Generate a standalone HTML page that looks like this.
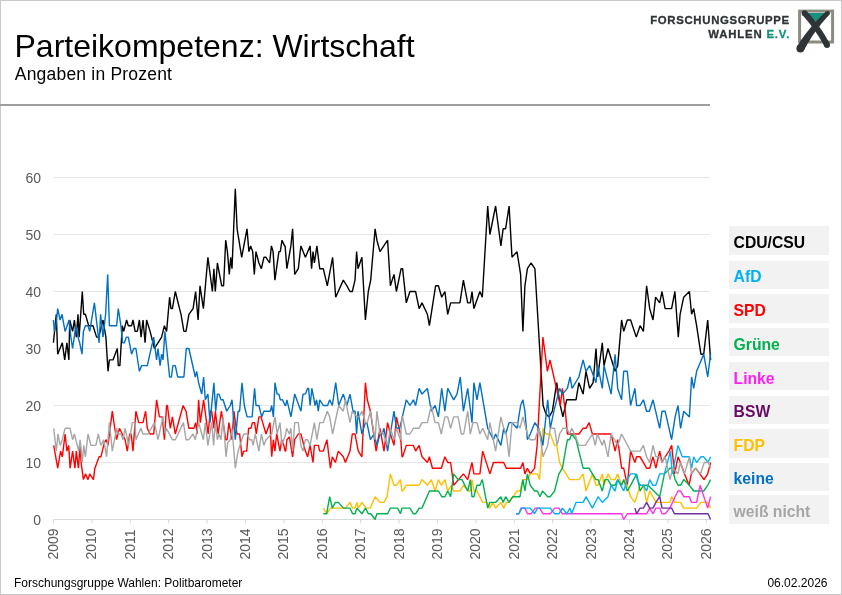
<!DOCTYPE html>
<html lang="de"><head><meta charset="utf-8"><title>Parteikompetenz: Wirtschaft</title>
<style>
html,body{margin:0;padding:0;background:#fff}
body{width:842px;height:595px;position:relative;overflow:hidden;font-family:"Liberation Sans",Arial,sans-serif}
#frame{position:absolute;left:0;top:0;width:840px;height:593px;border:1px solid #c9c9c9}
#title{position:absolute;left:14.5px;top:27.6px;font-size:32px;line-height:37px;color:#000;white-space:nowrap}
#sub{position:absolute;left:14.8px;top:63.9px;letter-spacing:0.2px;font-size:17.5px;line-height:20px;color:#000;white-space:nowrap}
#rule{position:absolute;left:0;top:104px;width:710px;height:2px;background:#9e9e9e}
.lg{position:absolute;left:729.3px;width:95.1px;height:23.6px;background:#f2f2f2;font-weight:bold;font-size:15.7px;line-height:24px;padding-left:4.3px;padding-top:4.7px;white-space:nowrap}
#foot{position:absolute;left:14px;top:576px;font-size:12px;line-height:14px;color:#000;white-space:nowrap}
#date{position:absolute;right:14.5px;top:576px;font-size:12px;line-height:14px;color:#000;white-space:nowrap}
#logo{position:absolute;left:640px;top:6px;width:200px;height:50px}
#wrap{position:absolute;left:0;top:0;width:842px;height:595px;will-change:transform;opacity:0.999}
</style></head><body>
<div id="wrap">
<div id="frame"></div>
<div id="title">Parteikompetenz: Wirtschaft</div>
<div id="sub">Angaben in Prozent</div>
<div id="rule"></div>
<svg id="logo" width="200" height="50" viewBox="640 6 200 50">
<g font-family="Liberation Sans, Arial, sans-serif" font-weight="bold" font-size="11.4" fill="#2f3436" stroke="#2f3436" stroke-width="0.3">
<text x="650.2" y="23.7" textLength="139" lengthAdjust="spacing">FORSCHUNGSGRUPPE</text>
<text x="708.3" y="37.5" textLength="81" lengthAdjust="spacing">WAHLEN <tspan fill="#17907f" stroke="#17907f">E.V.</tspan></text>
</g>
<rect x="799.6" y="11.1" width="33" height="30.9" fill="#fff" stroke="#8a8c80" stroke-width="3"/>
<polygon points="805,12.9 827,12.9 815.4,27" fill="#17907f"/>
<polygon points="802.5,15.2 803.5,16.3 804.6,17.5 805.6,18.7 806.6,19.9 807.6,21.1 808.6,22.3 809.6,23.5 810.6,24.8 811.5,26.1 812.5,27.3 813.4,28.6 814.3,29.9 815.2,31.2 816.1,32.5 817.0,33.9 817.9,35.2 818.7,36.6 819.6,37.9 820.4,39.3 821.2,40.7 822.0,42.1 822.8,43.5 823.6,45.0 824.3,46.4 829.7,43.6 828.9,42.1 828.0,40.6 827.2,39.2 826.4,37.7 825.5,36.3 824.7,34.8 823.8,33.4 822.9,32.0 822.0,30.6 821.0,29.2 820.1,27.9 819.2,26.5 818.2,25.2 817.2,23.8 816.2,22.5 815.2,21.2 814.2,19.9 813.2,18.6 812.1,17.4 811.1,16.1 810.0,14.9 808.9,13.6 807.8,12.4 806.7,11.2" fill="#2f3436"/><circle cx="804.6" cy="13.2" r="2.90" fill="#2f3436"/><circle cx="827.0" cy="45.0" r="3.00" fill="#2f3436"/><polygon points="826.0,11.6 824.6,12.8 823.2,14.1 821.9,15.4 820.5,16.8 819.2,18.1 817.9,19.5 816.6,20.8 815.3,22.2 814.0,23.6 812.8,25.0 811.5,26.5 810.3,27.9 809.1,29.4 807.9,30.9 806.7,32.4 805.6,33.9 804.4,35.4 803.3,37.0 802.2,38.6 801.1,40.1 800.0,41.7 799.0,43.4 797.9,45.0 796.9,46.6 803.9,50.6 804.7,48.9 805.6,47.3 806.5,45.7 807.4,44.1 808.3,42.5 809.3,40.9 810.2,39.4 811.2,37.8 812.2,36.3 813.2,34.8 814.3,33.3 815.3,31.8 816.4,30.3 817.4,28.8 818.5,27.4 819.7,25.9 820.8,24.5 821.9,23.1 823.1,21.7 824.3,20.3 825.5,18.9 826.7,17.5 828.0,16.2 829.2,14.8" fill="#2f3436"/><circle cx="827.6" cy="13.2" r="2.30" fill="#2f3436"/><circle cx="800.4" cy="48.6" r="4.00" fill="#2f3436"/>
</svg>
<svg id="chart" width="842" height="595" viewBox="0 0 842 595" style="position:absolute;left:0;top:0">
<line x1="53.5" x2="710" y1="462.5" y2="462.5" stroke="#e6e6e6" stroke-width="1"/>
<line x1="53.5" x2="710" y1="405.5" y2="405.5" stroke="#e6e6e6" stroke-width="1"/>
<line x1="53.5" x2="710" y1="348.5" y2="348.5" stroke="#e6e6e6" stroke-width="1"/>
<line x1="53.5" x2="710" y1="291.5" y2="291.5" stroke="#e6e6e6" stroke-width="1"/>
<line x1="53.5" x2="710" y1="234.5" y2="234.5" stroke="#e6e6e6" stroke-width="1"/>
<line x1="53.5" x2="710" y1="177.5" y2="177.5" stroke="#e6e6e6" stroke-width="1"/>
<line x1="53.5" x2="710" y1="519.5" y2="519.5" stroke="#d9d9d9" stroke-width="1"/>
<line x1="53.5" x2="53.5" y1="519.5" y2="523.5" stroke="#d9d9d9" stroke-width="1"/>
<line x1="91.9" x2="91.9" y1="519.5" y2="523.5" stroke="#d9d9d9" stroke-width="1"/>
<line x1="130.3" x2="130.3" y1="519.5" y2="523.5" stroke="#d9d9d9" stroke-width="1"/>
<line x1="168.7" x2="168.7" y1="519.5" y2="523.5" stroke="#d9d9d9" stroke-width="1"/>
<line x1="207.1" x2="207.1" y1="519.5" y2="523.5" stroke="#d9d9d9" stroke-width="1"/>
<line x1="245.5" x2="245.5" y1="519.5" y2="523.5" stroke="#d9d9d9" stroke-width="1"/>
<line x1="283.9" x2="283.9" y1="519.5" y2="523.5" stroke="#d9d9d9" stroke-width="1"/>
<line x1="322.3" x2="322.3" y1="519.5" y2="523.5" stroke="#d9d9d9" stroke-width="1"/>
<line x1="360.7" x2="360.7" y1="519.5" y2="523.5" stroke="#d9d9d9" stroke-width="1"/>
<line x1="399.1" x2="399.1" y1="519.5" y2="523.5" stroke="#d9d9d9" stroke-width="1"/>
<line x1="437.5" x2="437.5" y1="519.5" y2="523.5" stroke="#d9d9d9" stroke-width="1"/>
<line x1="475.9" x2="475.9" y1="519.5" y2="523.5" stroke="#d9d9d9" stroke-width="1"/>
<line x1="514.3" x2="514.3" y1="519.5" y2="523.5" stroke="#d9d9d9" stroke-width="1"/>
<line x1="552.7" x2="552.7" y1="519.5" y2="523.5" stroke="#d9d9d9" stroke-width="1"/>
<line x1="591.1" x2="591.1" y1="519.5" y2="523.5" stroke="#d9d9d9" stroke-width="1"/>
<line x1="629.5" x2="629.5" y1="519.5" y2="523.5" stroke="#d9d9d9" stroke-width="1"/>
<line x1="667.9" x2="667.9" y1="519.5" y2="523.5" stroke="#d9d9d9" stroke-width="1"/>
<line x1="706.3" x2="706.3" y1="519.5" y2="523.5" stroke="#d9d9d9" stroke-width="1"/>
<g font-family="Liberation Sans, Arial, sans-serif" font-size="14" fill="#595959">
<text x="41" y="525.0" text-anchor="end">0</text>
<text x="41" y="468.0" text-anchor="end">10</text>
<text x="41" y="411.0" text-anchor="end">20</text>
<text x="41" y="354.0" text-anchor="end">30</text>
<text x="41" y="297.0" text-anchor="end">40</text>
<text x="41" y="240.0" text-anchor="end">50</text>
<text x="41" y="183.0" text-anchor="end">60</text>
<text transform="translate(58.0,559.5) rotate(-90)">2009</text>
<text transform="translate(96.4,559.5) rotate(-90)">2010</text>
<text transform="translate(134.8,559.5) rotate(-90)">2011</text>
<text transform="translate(173.2,559.5) rotate(-90)">2012</text>
<text transform="translate(211.6,559.5) rotate(-90)">2013</text>
<text transform="translate(250.0,559.5) rotate(-90)">2014</text>
<text transform="translate(288.4,559.5) rotate(-90)">2015</text>
<text transform="translate(326.8,559.5) rotate(-90)">2016</text>
<text transform="translate(365.2,559.5) rotate(-90)">2017</text>
<text transform="translate(403.6,559.5) rotate(-90)">2018</text>
<text transform="translate(442.0,559.5) rotate(-90)">2019</text>
<text transform="translate(480.4,559.5) rotate(-90)">2020</text>
<text transform="translate(518.8,559.5) rotate(-90)">2021</text>
<text transform="translate(557.2,559.5) rotate(-90)">2022</text>
<text transform="translate(595.6,559.5) rotate(-90)">2023</text>
<text transform="translate(634.0,559.5) rotate(-90)">2024</text>
<text transform="translate(672.4,559.5) rotate(-90)">2025</text>
<text transform="translate(710.8,559.5) rotate(-90)">2026</text>
</g>
<g fill="none" stroke-width="1.4" stroke-linejoin="bevel" stroke-linecap="butt">
<polyline stroke="#000000" points="53.4,342.8 56.3,314.3 57.7,354.2 62.3,342.8 64.7,359.9 66.9,342.8 68.9,359.9 69.7,320.0 72.6,331.4 74.4,320.0 76.3,337.1 78.0,314.3 79.1,337.1 82.3,291.5 83.7,314.3 85.4,314.3 88.7,325.7 93.0,325.7 96.6,337.1 98.7,337.1 103.0,320.0 105.9,337.1 108.0,371.3 109.4,359.9 113.0,359.9 117.3,348.5 118.3,365.6 119.9,365.6 122.3,325.7 123.7,331.4 126.6,320.0 128.3,325.7 131.6,325.7 133.0,320.0 135.1,331.4 137.3,331.4 139.4,320.0 141.1,337.1 143.0,320.0 145.1,342.8 146.6,320.0 150.1,331.4 154.4,348.5 158.0,342.8 161.6,337.1 164.4,325.7 166.6,331.4 169.6,297.2 171.0,308.6 172.4,308.6 175.3,291.5 181.0,314.3 183.9,331.4 186.0,331.4 188.9,314.3 193.1,308.6 195.6,291.5 198.1,320.0 200.0,285.8 203.4,308.6 207.9,257.3 212.4,291.5 213.9,268.7 215.3,291.5 217.4,263.0 221.7,285.8 223.6,285.8 225.7,240.2 227.4,251.6 229.3,274.4 230.7,257.3 232.0,268.7 235.3,188.9 237.1,228.8 241.7,257.3 247.0,228.8 248.9,251.6 250.6,245.9 252.7,251.6 254.3,274.4 256.0,251.6 258.9,263.0 261.4,268.7 263.9,257.3 266.0,257.3 269.6,263.0 271.4,245.9 273.1,251.6 274.9,280.1 278.9,251.6 280.3,251.6 282.0,240.2 284.6,245.9 285.1,245.9 286.9,268.7 290.9,245.9 292.6,228.8 294.7,274.4 298.3,268.7 300.9,245.9 305.4,257.3 310.1,245.9 311.6,268.7 313.0,251.6 314.4,263.0 316.9,245.9 319.7,268.7 323.3,268.7 327.3,285.8 332.6,257.3 335.7,297.2 343.3,280.1 346.9,285.8 350.0,291.5 352.3,291.5 355.0,280.1 356.6,251.6 358.0,268.7 361.9,257.3 365.4,320.0 368.3,291.5 370.7,280.1 375.1,228.8 376.9,240.2 380.0,251.6 387.6,240.2 390.4,285.8 394.0,274.4 396.4,291.5 401.1,268.7 402.6,268.7 406.3,302.9 409.9,291.5 415.6,291.5 419.1,308.6 422.0,302.9 427.4,314.3 429.4,325.7 435.6,285.8 438.4,285.8 441.7,297.2 444.9,291.5 447.7,314.3 450.6,302.9 459.9,302.9 463.4,280.1 467.7,302.9 470.3,302.9 472.0,291.5 473.9,308.6 479.9,291.5 482.3,297.2 487.7,206.0 489.9,234.5 495.6,206.0 500.9,245.9 503.1,228.8 505.6,228.8 509.1,206.0 512.0,257.3 517.0,251.6 520.6,274.4 522.9,331.4 524.9,285.8 527.4,268.7 531.0,263.0 534.9,268.7 543.1,405.5 546.0,414.1 549.1,416.9 552.4,411.2 556.7,382.7 560.3,405.5 562.9,416.9 566.7,399.8 576.0,399.8 578.9,382.7 583.1,394.1 586.0,371.3 589.6,388.4 593.1,382.7 596.0,348.5 597.7,377.0 602.3,342.8 604.0,365.6 608.0,348.5 615.1,371.3 617.7,365.6 621.6,320.0 623.7,331.4 627.3,320.0 630.6,320.0 636.3,337.1 640.1,325.7 643.4,331.4 646.6,285.8 649.7,308.6 653.0,320.0 655.6,297.2 659.7,302.9 662.0,291.5 665.1,308.6 671.6,308.6 674.9,291.5 678.3,337.1 680.1,314.3 683.7,297.2 689.4,291.5 691.6,314.3 693.7,308.6 696.6,325.7 700.9,354.2 703.7,354.2 707.7,320.0 710.6,359.9"/>
<polyline stroke="#ff0000" points="53.7,445.4 57.7,468.2 60.6,451.1 62.3,456.8 65.1,434.0 66.9,451.1 68.7,445.4 70.1,468.2 72.6,451.1 74.9,468.2 76.3,451.1 78.4,468.2 80.1,445.4 81.1,462.5 83.4,479.6 85.4,473.9 88.0,479.6 89.7,473.9 93.4,479.6 94.9,468.2 99.1,456.8 100.9,456.8 104.4,442.6 106.3,439.7 108.0,445.4 112.3,411.2 114.4,426.0 116.6,439.7 119.4,428.3 122.3,434.0 125.1,439.7 127.3,451.1 129.7,434.0 131.1,434.0 133.0,451.1 135.9,411.2 138.7,422.6 143.0,422.6 145.6,411.2 147.3,428.3 150.1,434.0 153.7,434.0 156.6,399.8 159.4,416.9 162.3,416.9 164.4,439.7 166.6,405.5 167.4,405.5 170.3,428.3 172.4,416.9 175.3,434.0 183.1,405.5 186.0,411.2 188.9,428.3 193.9,428.3 195.7,422.6 197.1,434.0 198.6,399.8 200.3,422.6 203.6,399.8 208.1,434.0 210.3,411.2 211.7,411.2 213.9,428.3 215.3,411.2 218.1,434.0 221.4,411.2 225.7,439.7 227.1,439.7 228.9,422.6 232.0,439.7 233.9,411.2 237.0,434.0 239.6,434.0 242.0,456.8 243.6,451.1 246.7,451.1 248.6,428.3 251.0,428.3 252.4,422.6 254.6,422.6 256.3,434.0 258.9,416.9 261.0,416.9 266.0,434.0 270.0,422.6 271.7,456.8 273.4,439.7 274.9,451.1 276.7,434.0 280.0,451.1 281.7,439.7 283.9,445.4 285.1,451.1 285.7,451.1 286.9,439.7 289.4,436.9 292.6,456.8 294.7,439.7 298.3,434.0 300.9,434.0 305.4,451.1 307.6,456.8 310.1,445.4 313.0,462.5 314.4,445.4 318.3,445.4 319.7,451.1 323.3,451.1 326.9,439.7 330.4,468.2 332.3,456.8 335.4,462.5 338.3,451.1 343.3,456.8 345.4,462.5 350.0,451.1 352.3,434.0 355.0,434.0 358.3,451.1 361.9,456.8 365.4,382.7 367.3,399.8 370.4,411.2 376.1,451.1 380.0,428.3 384.0,451.1 387.6,422.6 390.4,434.0 394.0,445.4 396.4,416.9 400.4,434.0 402.0,456.8 402.6,456.8 406.3,445.4 413.4,445.4 415.6,451.1 419.1,445.4 422.0,456.8 427.4,462.5 429.4,456.8 432.4,468.2 441.3,468.2 444.9,456.8 447.7,462.5 450.6,462.5 453.7,485.3 463.4,473.9 467.7,479.6 472.0,462.5 473.9,473.9 479.9,473.9 482.7,451.1 489.9,473.9 493.4,462.5 503.7,462.5 506.3,468.2 520.0,468.2 520.6,468.2 522.9,462.5 524.9,473.9 527.4,468.2 530.3,473.9 534.6,468.2 537.1,445.4 542.9,337.1 547.4,371.3 550.0,359.9 560.3,405.5 562.4,388.4 565.3,411.2 567.4,434.0 571.7,434.0 578.9,434.0 583.1,428.3 586.0,428.3 589.1,422.6 592.4,434.0 597.4,434.0 598.0,434.0 611.1,434.0 615.1,451.1 617.7,439.7 621.6,468.2 623.7,468.2 627.3,485.3 630.6,451.1 634.9,462.5 636.6,456.8 640.1,456.8 646.6,468.2 649.7,468.2 653.0,456.8 655.9,468.2 659.7,451.1 662.0,462.5 665.1,456.8 669.0,451.1 671.7,445.4 674.6,473.9 678.0,456.8 680.4,462.5 684.6,473.9 689.0,485.3 691.4,473.9 695.6,468.2 704.0,479.6 707.7,473.9 710.6,462.5"/>
<polyline stroke="#ffc000" points="323.3,508.1 326.9,513.8 330.4,508.1 345.4,508.1 350.0,502.4 352.6,508.1 355.0,508.1 356.9,502.4 358.3,508.1 361.9,502.4 366.1,508.1 370.4,508.1 375.1,496.7 380.0,502.4 384.0,502.4 387.1,496.7 390.4,473.9 394.0,485.3 396.4,485.3 400.4,479.6 402.0,491.0 402.6,491.0 406.3,485.3 419.1,485.3 422.0,479.6 427.4,485.3 431.3,479.6 435.1,491.0 438.4,479.6 441.3,485.3 444.9,479.6 447.7,491.0 451.3,485.3 453.7,491.0 459.9,491.0 463.4,485.3 468.4,491.0 470.3,491.0 472.0,479.6 473.9,491.0 477.0,491.0 482.7,502.4 487.0,502.4 489.9,508.1 492.7,502.4 495.6,508.1 500.9,502.4 503.7,508.1 506.3,502.4 509.1,502.4 517.0,491.0 519.9,491.0 520.0,491.0 522.9,479.6 527.4,479.6 530.3,473.9 537.4,473.9 539.6,479.6 542.9,428.3 546.0,434.0 550.3,434.0 554.6,445.4 556.7,445.4 559.6,462.5 562.4,468.2 569.6,479.6 578.9,479.6 583.1,473.9 586.0,491.0 592.4,473.9 596.0,485.3 598.1,485.3 602.3,473.9 604.0,485.3 608.0,473.9 611.1,479.6 615.1,479.6 617.7,473.9 621.6,485.3 623.9,479.6 627.3,485.3 630.6,496.7 634.9,502.4 640.1,485.3 643.4,485.3 646.6,502.4 649.7,491.0 655.9,502.4 669.9,502.4 671.6,496.7 675.1,502.4 680.6,502.4 683.7,508.1 696.6,508.1 700.9,502.4 707.7,502.4 710.6,508.1"/>
<polyline stroke="#00b050" points="323.3,513.8 326.6,513.8 329.7,496.7 332.3,508.1 335.4,502.4 338.3,502.4 343.3,508.1 350.0,508.1 352.6,513.8 355.0,513.8 356.9,508.1 361.9,513.8 365.4,508.1 368.3,513.8 370.7,513.8 375.1,519.5 376.9,513.8 387.6,513.8 390.4,508.1 397.6,508.1 400.4,513.8 402.0,508.1 402.6,508.1 409.9,508.1 413.4,513.8 415.6,513.8 419.1,508.1 422.0,508.1 429.4,491.0 438.4,491.0 441.7,496.7 444.9,496.7 447.7,491.0 450.6,496.7 453.7,473.9 458.1,479.6 462.0,479.6 467.7,491.0 470.3,479.6 472.0,496.7 473.9,496.7 477.0,485.3 479.9,485.3 482.3,479.6 487.7,508.1 489.9,502.4 495.6,502.4 500.9,496.7 503.1,502.4 505.6,496.7 509.1,502.4 512.7,496.7 519.9,496.7 520.0,496.7 522.9,479.6 524.9,491.0 527.4,473.9 530.3,485.3 534.6,491.0 537.4,491.0 540.0,496.7 542.4,491.0 547.7,496.7 550.3,496.7 554.6,491.0 558.9,473.9 562.4,468.2 567.4,439.7 569.6,439.7 571.7,434.0 576.0,439.7 583.1,468.2 589.1,468.2 592.4,473.9 596.0,479.6 598.1,479.6 602.3,491.0 604.9,479.6 608.0,479.6 611.1,485.3 615.1,485.3 617.7,479.6 621.6,485.3 623.7,479.6 627.3,491.0 630.6,485.3 636.6,473.9 640.1,491.0 643.4,485.3 648.0,485.3 659.7,496.7 664.4,473.9 669.9,468.2 672.3,468.2 675.1,479.6 678.3,485.3 680.6,485.3 683.7,479.6 689.4,485.3 693.7,491.0 703.7,491.0 707.7,485.3 710.6,479.6"/>
<polyline stroke="#ff33e6" points="516.0,513.8 518.9,513.8 521.0,508.1 524.9,508.1 527.4,513.8 531.0,513.8 535.3,508.1 539.6,508.1 543.1,513.8 550.3,513.8 554.6,508.1 558.9,508.1 562.4,513.8 621.6,513.8 621.7,513.8 623.7,519.5 627.3,513.8 646.6,513.8 649.7,508.1 653.0,513.8 655.9,508.1 659.7,508.1 662.0,513.8 665.1,513.8 669.9,508.1 675.1,496.7 678.0,491.0 680.6,491.0 683.7,496.7 689.4,496.7 691.6,502.4 696.6,502.4 700.1,485.3 707.7,508.1 710.6,496.7"/>
<polyline stroke="#7030a0" points="634.9,508.1 636.6,513.8 640.1,508.1 643.4,508.1 646.6,502.4 649.7,508.1 653.0,508.1 655.9,502.4 659.7,496.7 662.0,508.1 671.6,508.1 674.4,513.8 708.0,513.8 710.6,519.5"/>
<polyline stroke="#00b0f0" points="516.0,513.8 518.9,513.8 521.7,508.1 530.3,508.1 534.6,513.8 537.4,508.1 550.3,508.1 554.6,513.8 558.9,513.8 562.4,508.1 566.7,513.8 570.0,508.1 571.7,513.8 576.0,502.4 583.1,502.4 586.0,496.7 592.4,508.1 598.1,496.7 602.3,502.4 608.0,496.7 611.1,485.3 615.1,491.0 617.7,479.6 623.7,491.0 627.3,479.6 630.6,473.9 634.9,473.9 640.1,485.3 643.4,485.3 646.6,491.0 649.7,479.6 653.0,485.3 655.9,485.3 659.7,473.9 664.4,473.9 670.4,451.1 672.3,473.9 678.0,445.4 682.3,456.8 689.4,456.8 691.6,468.2 693.7,456.8 696.6,462.5 700.9,456.8 703.7,456.8 708.0,462.5 710.6,456.8"/>
<polyline stroke="#0070c0" points="53.4,320.0 54.4,331.4 55.9,325.7 57.7,308.6 60.1,320.0 62.0,314.3 65.1,331.4 69.1,320.0 70.9,337.1 72.6,348.5 75.9,325.7 78.0,337.1 79.7,342.8 82.0,354.2 83.4,331.4 85.4,325.7 88.0,325.7 89.7,331.4 94.4,302.9 99.1,342.8 100.6,314.3 103.0,337.1 105.6,314.3 107.7,274.4 109.4,325.7 116.6,325.7 118.3,308.6 120.9,325.7 122.6,342.8 124.4,342.8 126.3,337.1 128.3,337.1 131.6,354.2 133.7,348.5 135.9,348.5 139.4,371.3 141.6,365.6 147.3,365.6 153.7,337.1 156.6,359.9 158.0,348.5 160.1,365.6 161.6,354.2 163.0,359.9 164.9,331.4 169.6,377.0 171.4,377.0 172.9,365.6 175.3,365.6 177.7,377.0 183.9,377.0 186.3,348.5 188.9,348.5 195.3,377.0 196.7,371.3 198.6,382.7 201.7,394.1 203.6,377.0 205.3,399.8 207.9,394.1 210.0,422.6 213.9,382.7 215.7,411.2 217.4,394.1 219.1,394.1 221.0,399.8 223.1,399.8 226.7,411.2 230.3,405.5 232.0,399.8 235.3,439.7 238.1,411.2 239.6,411.2 242.0,382.7 244.3,405.5 247.1,416.9 252.1,416.9 254.6,388.4 256.0,405.5 258.9,405.5 261.7,416.9 263.9,411.2 270.3,411.2 271.7,405.5 273.4,416.9 275.0,382.7 277.1,394.1 278.9,394.1 280.3,399.8 282.4,399.8 285.1,405.5 285.7,405.5 286.9,399.8 290.9,416.9 294.7,394.1 300.9,411.2 303.0,394.1 305.4,394.1 307.6,388.4 308.6,388.4 310.1,405.5 311.9,388.4 315.1,405.5 316.6,399.8 318.3,411.2 319.7,399.8 323.3,405.5 327.6,405.5 329.7,399.8 332.3,405.5 335.7,382.7 338.7,405.5 343.3,394.1 346.9,405.5 350.0,394.1 353.0,411.2 355.1,411.2 356.6,434.0 358.0,411.2 361.9,434.0 365.4,422.6 366.9,422.6 370.4,439.7 374.0,434.0 376.9,445.4 380.0,434.0 381.9,434.0 384.0,428.3 387.6,451.1 394.0,411.2 396.4,428.3 399.7,428.3 406.3,399.8 409.9,405.5 413.4,399.8 415.6,405.5 419.1,388.4 422.0,394.1 427.4,388.4 431.3,411.2 435.1,405.5 438.4,416.9 441.7,388.4 444.9,411.2 447.7,388.4 453.7,399.8 457.0,394.1 460.3,377.0 463.4,411.2 467.7,388.4 472.0,422.6 473.9,382.7 477.0,399.8 479.9,382.7 487.7,428.3 493.4,439.7 495.6,434.0 500.9,445.4 503.7,428.3 505.6,434.0 509.1,422.6 512.0,422.6 517.0,428.3 520.6,405.5 522.9,399.8 524.9,411.2 527.4,439.7 530.3,434.0 534.9,422.6 538.9,428.3 542.9,445.4 547.7,399.8 550.3,428.3 553.9,411.2 559.6,388.4 562.4,394.1 567.4,388.4 570.0,377.0 572.1,388.4 578.9,377.0 583.1,359.9 586.0,371.3 589.6,365.6 596.0,382.7 597.7,365.6 602.3,388.4 604.0,365.6 611.1,394.1 615.1,354.2 617.7,388.4 621.6,399.8 623.7,371.3 627.3,371.3 630.6,405.5 634.9,388.4 636.6,405.5 640.1,405.5 643.4,399.8 646.6,411.2 649.4,411.2 653.0,399.8 659.7,428.3 662.0,411.2 665.1,411.2 671.6,439.7 675.1,416.9 678.0,405.5 680.6,428.3 683.7,411.2 689.4,416.9 691.6,377.0 693.7,388.4 696.6,371.3 703.7,354.2 707.7,377.0 710.6,354.2"/>
<polyline stroke="#a6a6a6" points="53.7,428.3 56.3,451.1 58.0,434.0 60.1,445.4 62.3,439.7 65.1,428.3 70.1,428.3 72.6,439.7 74.4,434.0 77.3,445.4 78.7,451.1 80.1,439.7 82.3,462.5 83.7,445.4 85.4,456.8 88.0,434.0 90.9,445.4 93.7,445.4 95.9,445.4 98.3,434.0 100.9,445.4 103.7,439.7 106.6,456.8 109.4,422.6 112.3,451.1 116.6,428.3 118.3,434.0 120.9,434.0 123.0,439.7 125.1,428.3 128.7,445.4 132.3,422.6 134.9,422.6 135.9,439.7 140.9,428.3 143.0,434.0 148.0,434.0 154.4,422.6 158.0,439.7 163.0,416.9 165.1,434.0 166.4,428.3 172.4,439.7 175.3,439.7 183.4,422.6 186.0,439.7 188.9,439.7 193.1,434.0 195.3,439.7 198.6,422.6 203.4,439.7 205.3,422.6 207.9,445.4 211.7,422.6 213.6,445.4 215.3,422.6 217.4,439.7 219.1,434.0 221.0,439.7 223.1,416.9 226.0,456.8 227.7,442.6 230.3,439.7 232.0,428.3 235.3,468.2 238.1,451.1 241.7,439.7 243.9,434.0 247.4,434.0 249.6,439.7 251.7,439.7 253.1,445.4 255.3,434.0 258.9,451.1 261.4,434.0 263.9,445.4 266.0,439.7 271.7,434.0 275.0,416.9 277.1,434.0 280.0,422.6 282.0,445.4 285.7,434.0 286.6,428.3 289.4,434.0 290.9,428.3 292.6,451.1 294.7,422.6 298.3,422.6 300.9,445.4 303.0,451.1 305.4,439.7 307.6,439.7 310.1,445.4 314.4,422.6 316.9,439.7 319.7,422.6 323.3,422.6 327.3,411.2 329.7,416.9 332.6,434.0 338.7,405.5 343.3,411.2 345.4,399.8 350.0,422.6 352.3,411.2 356.9,416.9 359.0,416.9 361.9,411.2 365.4,422.6 367.3,422.6 370.4,411.2 375.1,439.7 376.9,411.2 380.0,434.0 382.6,431.7 387.6,445.4 390.4,428.3 394.0,439.7 396.4,428.3 398.3,434.0 400.4,439.7 402.0,416.9 402.6,416.9 406.3,434.0 409.9,434.0 413.4,428.3 419.1,428.3 422.0,422.6 427.4,422.6 431.3,405.5 435.1,422.6 438.4,422.6 441.3,434.0 444.9,416.9 447.7,416.9 450.6,428.3 453.7,416.9 458.1,416.9 461.3,434.0 463.7,434.0 467.7,411.2 470.3,434.0 473.0,422.6 477.0,422.6 479.9,434.0 482.7,428.3 487.7,439.7 489.9,422.6 495.6,451.1 500.9,416.9 503.7,428.3 506.3,434.0 509.1,456.8 512.0,422.6 517.0,422.6 519.9,428.3 522.9,416.9 527.4,434.0 530.3,439.7 534.9,439.7 538.9,428.3 543.1,456.8 547.7,445.4 550.3,428.3 554.6,428.3 557.1,445.4 559.6,434.0 562.9,428.3 566.7,428.3 569.6,434.0 571.7,428.3 576.0,437.4 578.9,445.4 585.3,445.4 592.4,434.0 595.3,445.4 597.4,434.0 602.3,445.4 604.0,439.7 608.0,456.8 611.1,434.0 617.7,445.4 621.6,434.0 630.6,451.1 640.1,451.1 643.4,445.4 646.6,456.8 649.7,462.5 653.0,445.4 655.9,456.8 659.7,456.8 662.0,462.5 665.1,456.8 670.0,479.6 672.7,468.2 678.0,473.9 680.3,462.5 684.4,473.9 689.4,456.8 691.4,473.9 695.6,468.2 700.4,473.9 704.3,462.5 708.4,462.5 710.6,468.2"/>
</g>
</svg>
<div class="lg" style="top:226.4px;color:#000000">CDU/CSU</div>
<div class="lg" style="top:260.6px;color:#00b0f0">AfD</div>
<div class="lg" style="top:294.3px;color:#ff0000">SPD</div>
<div class="lg" style="top:328.1px;color:#00b050">Grüne</div>
<div class="lg" style="top:361.9px;color:#ff1ff0">Linke</div>
<div class="lg" style="top:395.7px;color:#660a66">BSW</div>
<div class="lg" style="top:429.4px;color:#ffc000">FDP</div>
<div class="lg" style="top:462.6px;color:#0070c0">keine</div>
<div class="lg" style="top:495.4px;color:#a6a6a6">weiß nicht</div>
<div id="foot">Forschungsgruppe Wahlen: Politbarometer</div>
<div id="date">06.02.2026</div>
</div>
</body></html>
